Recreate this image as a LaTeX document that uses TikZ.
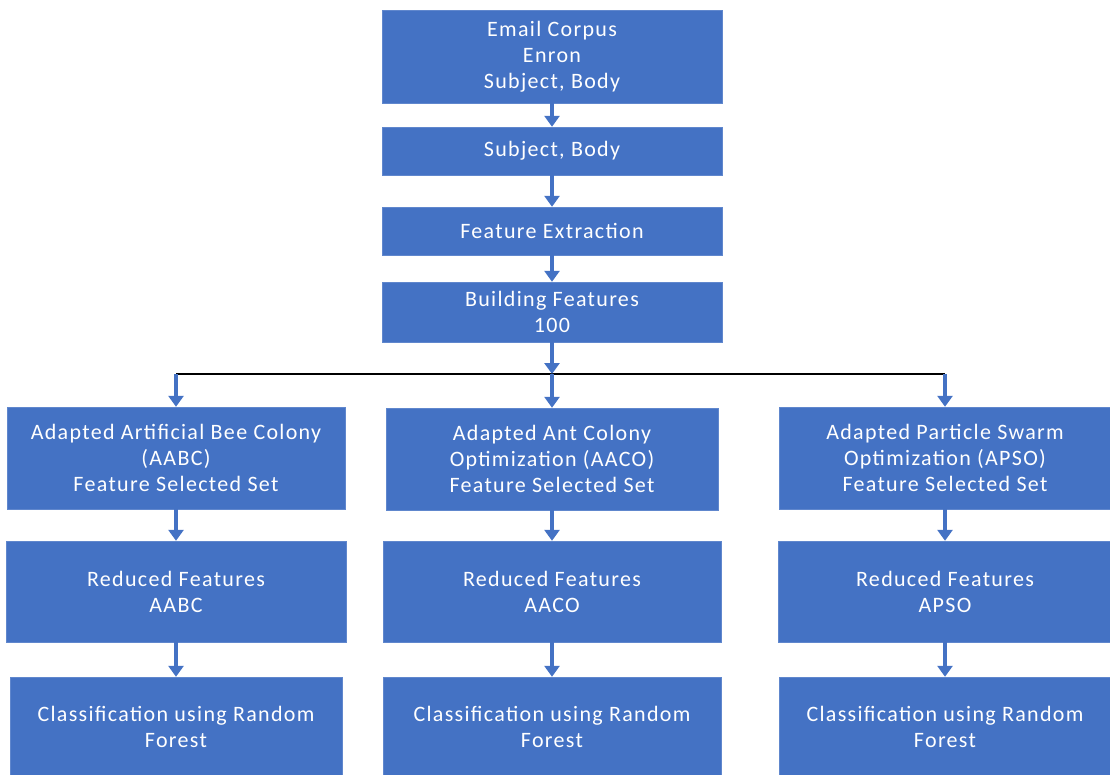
\documentclass[tikz,border=0pt]{standalone}
\usepackage{fontspec}
\setmainfont{Carlito}[LetterSpace=6]
\usetikzlibrary{arrows.meta,positioning}
\definecolor{boxblue}{RGB}{68,114,196}

\begin{document}
\begin{tikzpicture}[x=1pt, y=-1pt,
        box/.style={rectangle, draw=boxblue!85!white, fill=boxblue, text=white, align=center,
                    inner sep=0pt, font=\fontsize{22}{26}\selectfont},
        flow/.style={-{Triangle[width=15pt,length=11pt]}, line width=3.5pt, boxblue},
        branch/.style={line width=2pt, black}
      ]
        \useasboundingbox (0,0) rectangle (1110,775);

        % main column
        \node[box, minimum width=340pt, minimum height=93pt] (corpus) at (552, 56.5) {Email Corpus\\Enron\\Subject, Body};
        \node[box, minimum width=340pt, minimum height=48pt] (subj) at (552, 151) {Subject, Body};
        \node[box, minimum width=340pt, minimum height=48pt] (extract) at (552, 231) {Feature Extraction};
        \node[box, minimum width=340pt, minimum height=60pt] (build) at (552, 312) {Building Features\\100};
        \coordinate (split) at (552, 374);

        % selection methods
        \node[box, minimum width=338pt, minimum height=102pt] (aabc) at (176, 458) {Adapted Artificial Bee Colony\\(AABC)\\Feature Selected Set};
        \node[box, minimum width=332pt, minimum height=102pt] (aaco) at (552, 459) {Adapted Ant Colony\\Optimization (AACO)\\Feature Selected Set};
        \node[box, minimum width=332pt, minimum height=102pt] (apso) at (945, 458) {Adapted Particle Swarm\\Optimization (APSO)\\Feature Selected Set};

        % reduced sets
        \node[box, minimum width=340pt, minimum height=101pt] (redabc) at (176, 591.5) {Reduced Features\\AABC};
        \node[box, minimum width=338pt, minimum height=101pt] (redaco) at (552, 591.5) {Reduced Features\\AACO};
        \node[box, minimum width=334pt, minimum height=101pt] (redpso) at (945, 591.5) {Reduced Features\\APSO};

        % classifiers
        \node[box, minimum width=332pt, minimum height=100pt] (rfabc) at (176, 727) {Classification using Random\\Forest};
        \node[box, minimum width=338pt, minimum height=100pt] (rfaco) at (552, 727) {Classification using Random\\Forest};
        \node[box, minimum width=332pt, minimum height=100pt] (rfpso) at (945, 727) {Classification using Random\\Forest};

        \draw[flow] (corpus) -- (subj);
        \draw[flow] (subj) -- (extract);
        \draw[flow] (extract) -- (build);

        \draw[branch] (split -| aabc) -- (split -| apso);
        \draw[flow] (build) -- (split);
        \draw[flow] (split) -- (aaco);
        \draw[flow] (split -| aabc) -- (aabc);
        \draw[flow] (split -| apso) -- (apso);

        \draw[flow] (aabc) -- (redabc);
        \draw[flow] (aaco) -- (redaco);
        \draw[flow] (apso) -- (redpso);
        \draw[flow] (redabc) -- (rfabc);
        \draw[flow] (redaco) -- (rfaco);
        \draw[flow] (redpso) -- (rfpso);
      \end{tikzpicture}
\end{document}
